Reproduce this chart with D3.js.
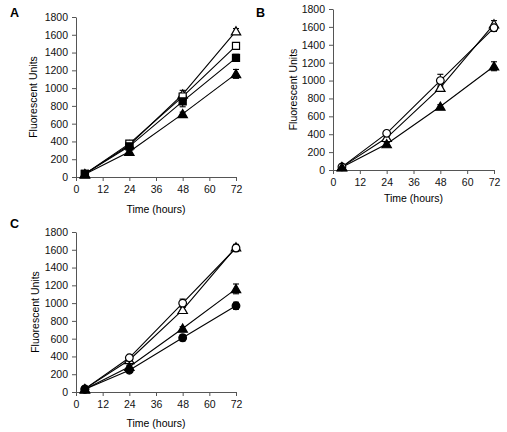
<!DOCTYPE html>
<html><head><meta charset="utf-8">
<script src="https://cdn.jsdelivr.net/npm/d3@7"></script>
<style>body{margin:0;background:#fff}svg{display:block}</style>
</head><body>
<svg id="c" width="507" height="432"></svg>
<script>
// ---- data ----
const times = [4, 24, 48, 72];
const xTicks = [0, 12, 24, 36, 48, 60, 72];
const yTicks = [0, 200, 400, 600, 800, 1000, 1200, 1400, 1600, 1800];

const openTriangleA = [35, 360, 930, 1640];
const openTriangleAErr = [5, 20, 45, 30];
const openSquareA = [35, 375, 905, 1475];
const openSquareAErr = [5, 15, 40, 20];
const filledSquareA = [35, 345, 850, 1340];
const filledSquareAErr = [5, 15, 60, 40];
const filledTriangleA = [30, 285, 710, 1160];
const filledTriangleAErr = [5, 15, 20, 50];

const openCircleB = [35, 410, 1000, 1590];
const openCircleBErr = [5, 20, 70, 40];
const openTriangleB = [35, 360, 920, 1630];
const openTriangleBErr = [5, 20, 30, 40];
const filledTriangleB = [30, 290, 710, 1160];
const filledTriangleBErr = [5, 15, 20, 50];

const openCircleC = [35, 385, 1000, 1620];
const openCircleCErr = [5, 20, 45, 40];
const openTriangleC = [35, 360, 925, 1630];
const openTriangleCErr = [5, 20, 30, 30];
const filledTriangleC = [30, 285, 715, 1160];
const filledTriangleCErr = [5, 15, 20, 55];
const filledCircleC = [30, 245, 610, 970];
const filledCircleCErr = [5, 15, 35, 40];

const panels = [
  {label:"A", x0:76, x1:236, y0:17, y1:177, labX:10, labY:17, ytX:33, xtY:213,
   series:[
    {v:openTriangleA, e:openTriangleAErr, shape:"triangle", fill:false},
    {v:openSquareA, e:openSquareAErr, shape:"square", fill:false},
    {v:filledSquareA, e:filledSquareAErr, shape:"square", fill:true},
    {v:filledTriangleA, e:filledTriangleAErr, shape:"triangle", fill:true}]},
  {label:"B", x0:333, x1:494, y0:9, y1:170, labX:256, labY:17, ytX:293, xtY:202,
   series:[
    {v:openTriangleB, e:openTriangleBErr, shape:"triangle", fill:false},
    {v:openCircleB, e:openCircleBErr, shape:"circle", fill:false},
    {v:filledTriangleB, e:filledTriangleBErr, shape:"triangle", fill:true}]},
  {label:"C", x0:76, x1:236, y0:232, y1:392, labX:10, labY:228, ytX:35, xtY:427,
   series:[
    {v:openTriangleC, e:openTriangleCErr, shape:"triangle", fill:false},
    {v:openCircleC, e:openCircleCErr, shape:"circle", fill:false},
    {v:filledTriangleC, e:filledTriangleCErr, shape:"triangle", fill:true},
    {v:filledCircleC, e:filledCircleCErr, shape:"circle", fill:true}]}
];

const svg = d3.select("#c");
const font = "'Liberation Sans', Arial, sans-serif";
const symbols = {triangle:[d3.symbolTriangle, 38], square:[d3.symbolSquare, 50], circle:[d3.symbolCircle, 46]};

panels.forEach(p => {
  const x = d3.scaleLinear().domain([0,72]).range([p.x0,p.x1]);
  const y = d3.scaleLinear().domain([0,1800]).range([p.y1,p.y0]);
  const g = svg.append("g");

  const ax = g.append("g").attr("transform",`translate(0,${p.y1})`)
    .call(d3.axisBottom(x).tickValues(xTicks).tickFormat(d3.format("d")).tickSize(4).tickSizeOuter(0).tickPadding(5));
  const ay = g.append("g").attr("transform",`translate(${p.x0},0)`)
    .call(d3.axisLeft(y).tickValues(yTicks).tickFormat(d3.format("d")).tickSize(4).tickSizeOuter(0).tickPadding(4));
  [ax,ay].forEach(a=>{
    a.selectAll("path,line").attr("stroke","#555").attr("stroke-width",1);
    a.selectAll("text").attr("font-family",font).attr("font-size",10.5).attr("fill","#111");
  });

  g.append("text").attr("x",p.labX).attr("y",p.labY).text(p.label)
    .attr("font-family",font).attr("font-weight","bold").attr("font-size",12.5);
  g.append("text").attr("x",(p.x0+p.x1)/2).attr("y",p.xtY).attr("text-anchor","middle")
    .attr("font-family",font).attr("font-size",10.5).text("Time (hours)");
  g.append("text").attr("transform",`translate(${p.ytX},${(p.y0+p.y1)/2}) rotate(-90)`)
    .attr("text-anchor","middle").attr("dy","0.35em")
    .attr("font-family",font).attr("font-size",10.5).text("Fluorescent Units");

  const line = d3.line().x((d,i)=>x(times[i])).y(d=>y(d));
  p.series.forEach(s=>{
    g.append("path").attr("d",line(s.v)).attr("fill","none").attr("stroke","#000").attr("stroke-width",1.1);
  });
  p.series.forEach(s=>{
    s.v.forEach((v,i)=>{
      const cx = x(times[i]), e = s.e[i];
      const eg = g.append("g").attr("stroke","#000").attr("stroke-width",1.1);
      eg.append("line").attr("x1",cx).attr("x2",cx).attr("y1",y(v-e)).attr("y2",y(v+e));
      eg.append("line").attr("x1",cx-3).attr("x2",cx+3).attr("y1",y(v+e)).attr("y2",y(v+e));
      eg.append("line").attr("x1",cx-3).attr("x2",cx+3).attr("y1",y(v-e)).attr("y2",y(v-e));
    });
  });
  p.series.forEach(s=>{
    const [type,size] = symbols[s.shape];
    s.v.forEach((v,i)=>{
      g.append("path").attr("d",d3.symbol().type(type).size(size)())
        .attr("transform",`translate(${x(times[i])},${y(v) + (s.shape==="triangle"?1:0)})`)
        .attr("fill",s.fill?"#000":"#fff").attr("stroke","#000").attr("stroke-width",1.2);
    });
  });
});
</script>
</body></html>
